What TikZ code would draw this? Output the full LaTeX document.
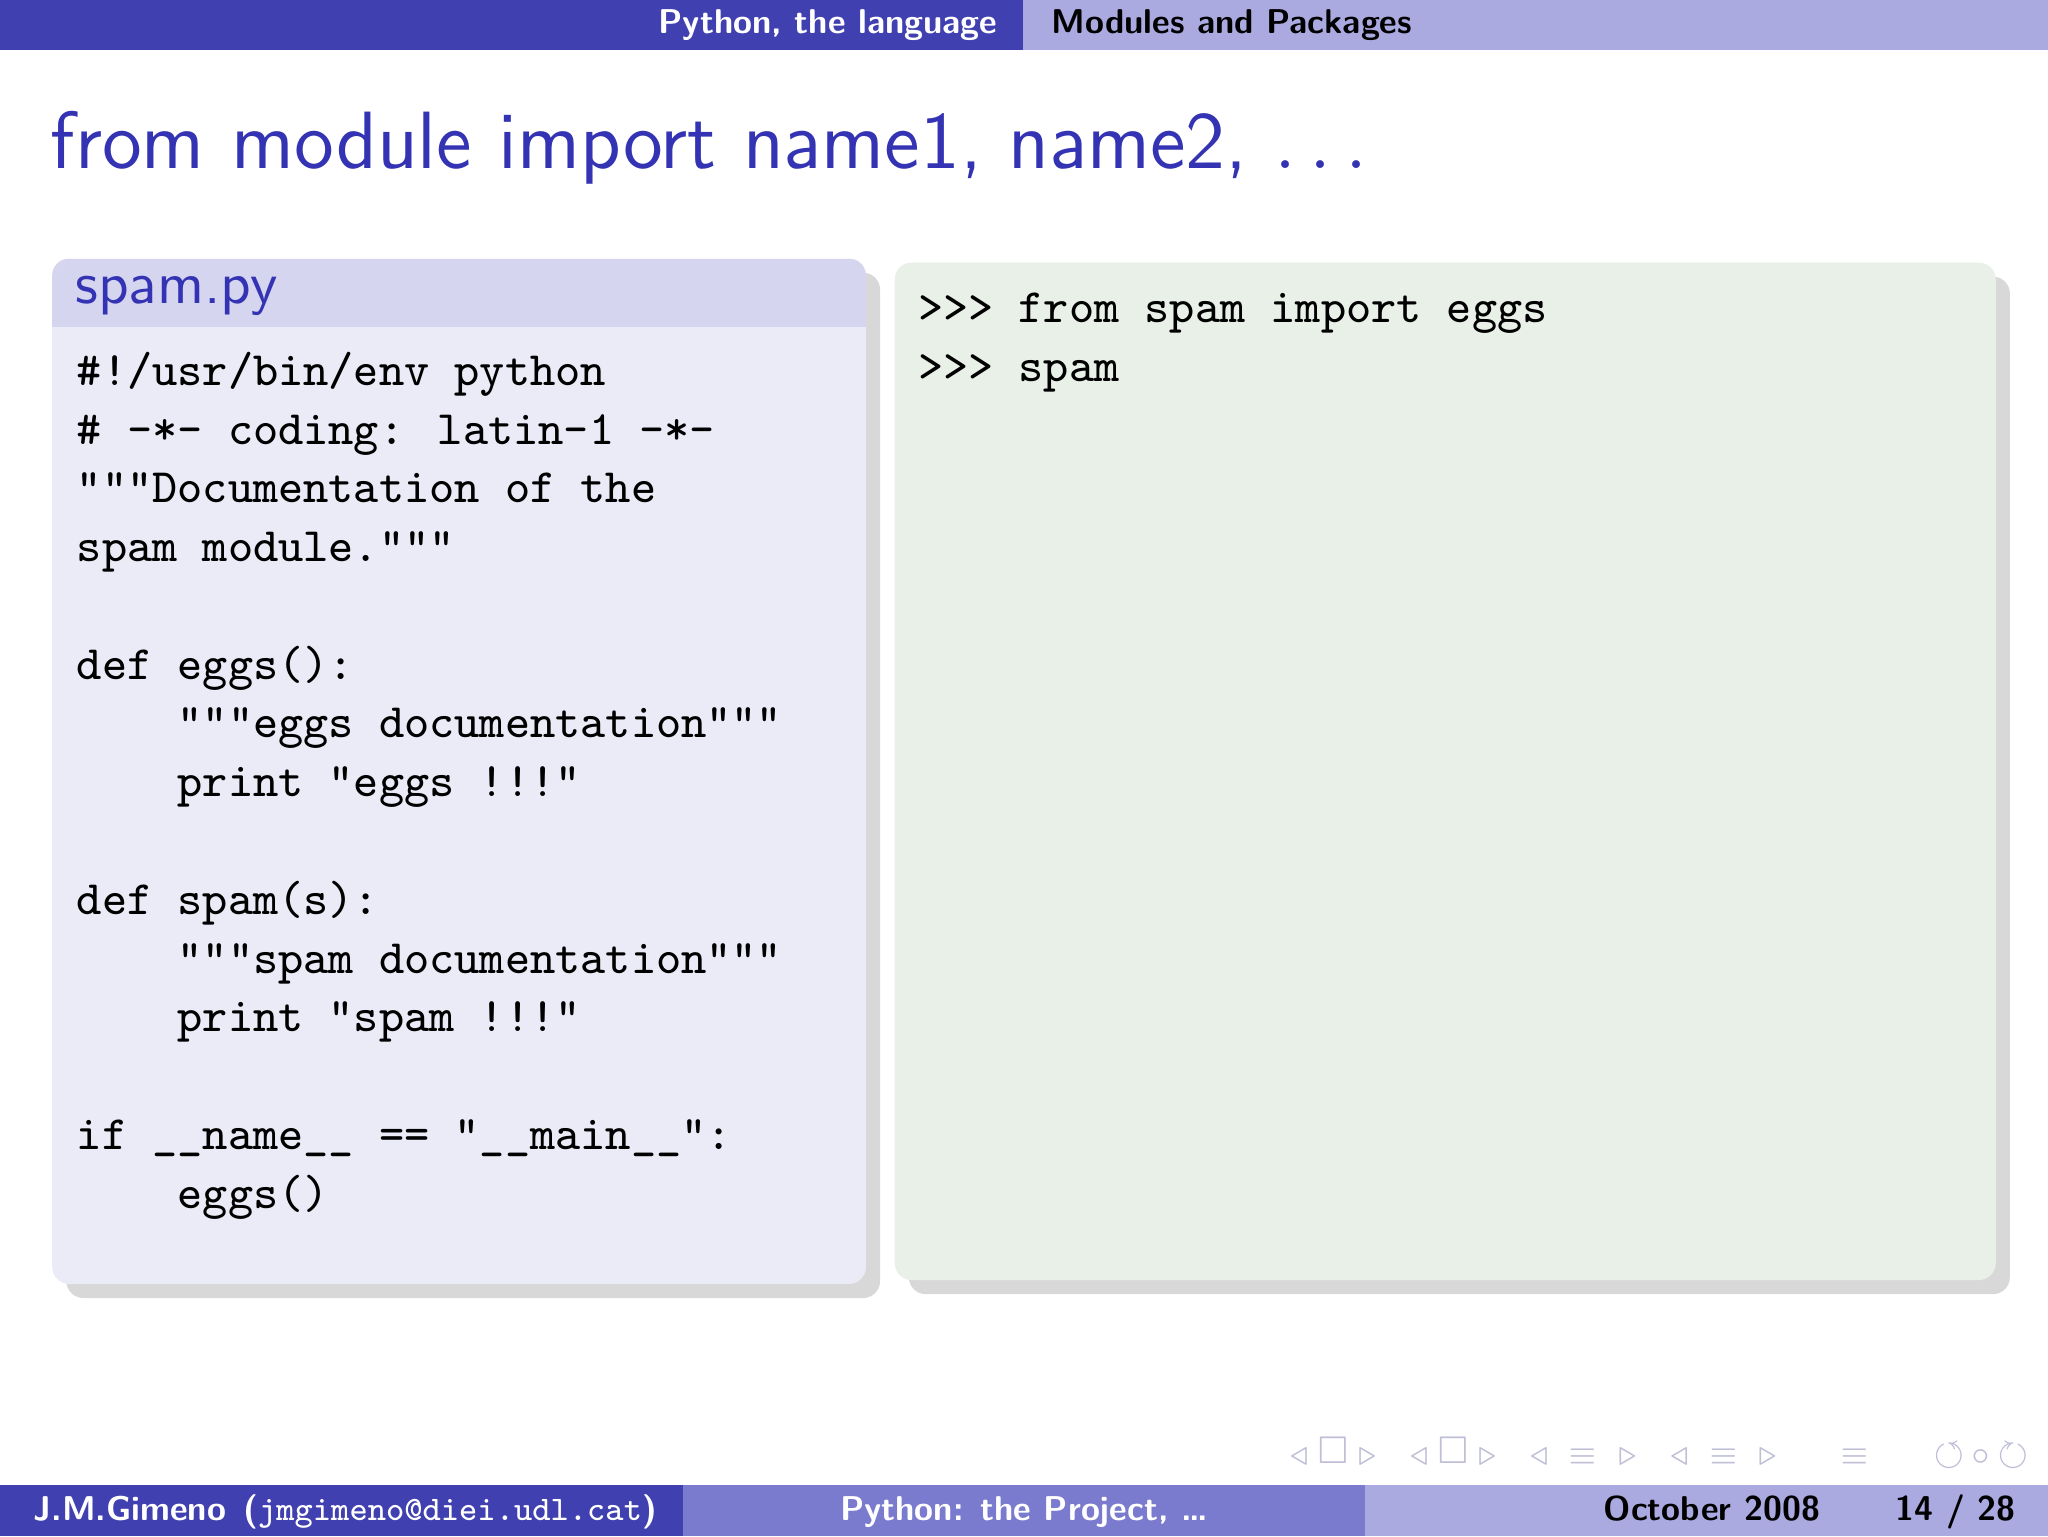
\documentclass[tikz,border=0pt]{standalone}
\usepackage{amssymb}
\usetikzlibrary{shadows}
\definecolor{hdark}{RGB}{64,64,176}
\definecolor{hlight}{RGB}{170,170,225}
\definecolor{fmid}{RGB}{122,122,207}
\definecolor{ttl}{RGB}{51,51,179}
\definecolor{btitle}{RGB}{213,213,240}
\definecolor{bbody}{RGB}{235,235,247}
\definecolor{gbody}{RGB}{232,240,232}
\definecolor{navg}{RGB}{190,190,215}
\tikzset{
 code/.style={anchor=base west,inner sep=0pt,font=\fontsize{8.5}{10}\ttfamily},
 hdr/.style={anchor=center,inner sep=0pt,font=\fontsize{6.1}{8}\sffamily\bfseries},
 ftr/.style={inner sep=0pt,font=\fontsize{6.1}{8}\sffamily\bfseries},
 nav/.style={inner sep=0pt,text=navg,font=\fontsize{5.5}{7}\sffamily},
 blk/.style={rounded corners=3pt,drop shadow={shadow xshift=2.5pt,shadow yshift=-2.5pt,opacity=0.3}}
}
\begin{document}
\begin{tikzpicture}[x=0.2314pt,y=-0.2314pt]
\useasboundingbox (0,0) rectangle (1568,1176);
\fill[white] (0,0) rectangle (1568,1176);
% header
\fill[hdark] (0,0) rectangle (783,38);
\fill[hlight] (783,0) rectangle (1568,38);
\node[hdr,text=white] (h1) at (634,19) {Python, the language};
\node[hdr,text=black] (h2) at (943,19) {Modules and Packages};
% title
\node[anchor=base west,inner sep=0pt,text=ttl,font=\fontsize{14.4}{18}\sffamily] (title) at (38,129) {from module import name1, name2, $\ldots$};
% left block
\path[blk,fill=bbody] (40,198) rectangle (663,983);
\begin{scope}
\clip[rounded corners=3pt] (40,198) rectangle (663,983);
\fill[btitle] (40,198) rectangle (663,250);
\end{scope}
\node[anchor=base west,inner sep=0pt,text=ttl,font=\fontsize{10.5}{12}\sffamily] (bt) at (57,232) {spam.py};
\node[code] (l1) at (58,295) {\#!/usr/bin/env python};
\node[code] (l2) at (58,340) {\# -*- coding: latin-1 -*-};
\node[code] (l3) at (58,385) {"""Documentation of the};
\node[code] (l4) at (58,430) {spam module."""};
\node[code] (l5) at (58,520) {def eggs():};
\node[code] (l6) at (58,565) {\ \ \ \ """eggs documentation"""};
\node[code] (l7) at (58,610) {\ \ \ \ print "eggs !!!"};
\node[code] (l8) at (58,700) {def spam(s):};
\node[code] (l9) at (58,745) {\ \ \ \ """spam documentation"""};
\node[code] (l10) at (58,790) {\ \ \ \ print "spam !!!"};
\node[code] (l11) at (58,880) {if \_\_name\_\_ == "\_\_main\_\_":};
\node[code] (l12) at (58,925) {\ \ \ \ eggs()};
% right block
\path[blk,fill=gbody] (685,201) rectangle (1528,980);
\node[code] (r1) at (702,247) {>>> from spam import eggs};
\node[code] (r2) at (702,292) {>>> spam};
% nav symbols
\node[nav,anchor=east] (n1) at (1555,1113) {$\triangleleft\,\square\,\triangleright$\quad$\triangleleft\,\square\,\triangleright$\quad$\triangleleft\,\equiv\,\triangleright$\quad$\triangleleft\,\equiv\,\triangleright$\qquad$\equiv$\qquad$\circlearrowleft\!\circ\!\circlearrowright$};
% footer
\fill[hdark] (0,1137) rectangle (523,1176);
\fill[fmid] (523,1137) rectangle (1045,1176);
\fill[hlight] (1045,1137) rectangle (1568,1176);
\node[ftr,anchor=base west,text=white] (f1) at (25,1164) {J.M.Gimeno\enspace(\texttt{\mdseries jmgimeno@diei.udl.cat})};
\node[ftr,anchor=base,text=white] (f2) at (784,1164) {Python: the Project, \dots};
\node[ftr,anchor=base west,text=black] (f3) at (1227,1164) {October 2008};
\node[ftr,anchor=base east,text=black] (f4) at (1544,1164) {14 / 28};
\end{tikzpicture}
\end{document}
